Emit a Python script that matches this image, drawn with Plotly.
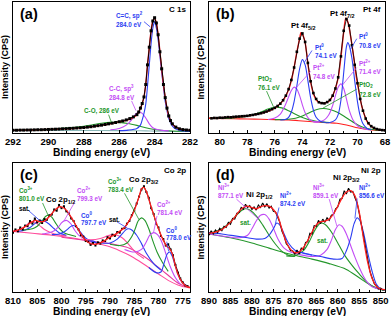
import plotly.graph_objects as go

# ================= Panel (a): C 1s =================
a_data_x = [292.0, 291.8, 291.6, 291.4, 291.2, 291.0, 290.8, 290.6, 290.4, 290.2,
            290.0, 289.8, 289.6, 289.4, 289.2, 289.0, 288.8, 288.6, 288.4, 288.2,
            288.0, 287.8, 287.6, 287.4, 287.2, 287.0, 286.8, 286.6, 286.4, 286.2,
            286.0, 285.8, 285.6, 285.4, 285.2, 285.0, 284.9, 284.8, 284.7, 284.6,
            284.5, 284.4, 284.3, 284.2, 284.1, 284.0, 283.9, 283.8, 283.7, 283.6,
            283.5, 283.4, 283.3, 283.2, 283.1, 283.0, 282.8, 282.6, 282.4, 282.2, 282.0]
a_data_y = [2.1, 2.1, 2.2, 2.2, 2.3, 2.3, 2.4, 2.5, 2.5, 2.6,
            2.7, 2.8, 2.9, 3.0, 3.2, 3.3, 3.5, 3.6, 3.8, 4.0,
            4.2, 4.5, 4.8, 5.2, 5.6, 6.0, 6.5, 7.0, 7.5, 8.0,
            8.6, 9.2, 10.0, 11.0, 12.3, 14.0, 16.0, 19.0, 22.5, 27.5,
            37.0, 52.0, 65.5, 78.0, 85.5, 88.0, 84.0, 75.0, 62.0, 49.0,
            37.0, 27.0, 19.0, 13.0, 9.5, 7.0, 4.5, 3.2, 2.6, 2.3, 2.1]
a_fit_x = [292, 291, 290, 289, 288, 287, 286.5, 286, 285.5, 285.2, 285.0, 284.8, 284.7,
           284.6, 284.5, 284.4, 284.3, 284.2, 284.1, 284.0, 283.9, 283.8, 283.7, 283.6,
           283.5, 283.4, 283.3, 283.2, 283.1, 283.0, 282.8, 282.5, 282.0]
a_fit_y = [2.0, 2.3, 2.7, 3.2, 4.1, 5.9, 7.1, 8.5, 10.1, 12.0, 13.9, 18.6, 22.3,
           27.5, 37.2, 52.0, 65.5, 78.0, 85.5, 87.8, 84.0, 75.0, 62.0, 49.0,
           37.0, 27.0, 19.0, 13.0, 9.4, 7.0, 4.5, 2.8, 2.0]
a_bg_x = [292, 290, 288, 286, 285, 284.5, 284, 283.5, 283, 282]
a_bg_y = [2.0, 2.0, 1.9, 1.8, 1.7, 1.6, 1.4, 1.3, 1.2, 1.2]
a_sp2_x = [286.0, 285.5, 285.0, 284.8, 284.7, 284.6, 284.5, 284.4, 284.3, 284.2, 284.1, 284.0,
           283.9, 283.8, 283.7, 283.6, 283.5, 283.4, 283.3, 283.2, 283.0, 282.8, 282.5, 282.0]
a_sp2_y = [1.8, 2.2, 3.5, 6.0, 10.0, 15.0, 22.0, 36.0, 52.0, 68.0, 80.0, 85.0,
           80.0, 71.0, 59.0, 46.0, 35.0, 24.0, 17.0, 11.0, 5.5, 3.0, 1.8, 1.3]
a_sp3_x = [286.5, 286.0, 285.6, 285.3, 285.1, 284.9, 284.7, 284.5, 284.3, 284.1, 283.9, 283.6, 283.2]
a_sp3_y = [2.5, 3.5, 6.0, 10.0, 14.0, 16.0, 15.0, 11.5, 7.0, 4.0, 2.8, 2.0, 1.6]
a_co_x = [292, 291, 290, 289, 288, 287.5, 287, 286.5, 286, 285.5, 285, 284.5, 284, 283.5, 283, 282]
a_co_y = [2.0, 2.3, 2.8, 3.7, 5.2, 6.3, 7.4, 8.1, 8.1, 7.3, 5.8, 4.0, 2.7, 1.9, 1.5, 1.3]

# ================= Panel (b): Pt 4f =================
b_data_x = [80.6, 80.4, 80.2, 80.0, 79.8, 79.6, 79.4, 79.2, 79.0,
            78.8, 78.6, 78.4, 78.2, 78.0, 77.8, 77.6, 77.4, 77.2, 77.0,
            76.8, 76.6, 76.4, 76.2, 76.0, 75.8, 75.6, 75.4, 75.2, 75.0,
            74.8, 74.6, 74.4, 74.2, 74.0, 73.8, 73.6, 73.4, 73.2, 73.0,
            72.8, 72.6, 72.4, 72.2, 72.0, 71.8, 71.6, 71.4, 71.2, 71.0,
            70.8, 70.6, 70.4, 70.2, 70.0, 69.8, 69.6, 69.4, 69.2, 69.0,
            68.8, 68.6, 68.4, 68.2, 68.0]
b_data_y = [11.2, 11.5, 11.4, 11.7, 11.6, 11.9, 12.1, 12.0, 12.3,
            12.5, 12.6, 12.8, 12.9, 13.1, 13.5, 13.8, 14.2, 14.6, 15.1,
            15.7, 16.4, 17.3, 18.2, 19.2, 20.6, 22.4, 25.0, 28.5, 33.5,
            40.5, 50.0, 62.0, 72.0, 76.0, 69.5, 53.5, 39.5, 30.5, 26.0,
            23.5, 22.8, 22.6, 23.6, 25.2, 28.5, 34.0, 42.5, 58.5, 78.0,
            87.0, 82.0, 67.0, 52.0, 38.0, 26.0, 17.0, 11.0, 7.5, 5.2,
            3.9, 3.0, 2.5, 2.2, 2.0]
b_fit_x = [80.78, 80, 79, 78, 77.5, 77, 76.5, 76, 75.6, 75.3, 75.0, 74.8, 74.6, 74.4, 74.2,
           74.1, 74.0, 73.8, 73.6, 73.4, 73.2, 73.0, 72.8, 72.5, 72.2, 72.0, 71.8, 71.6, 71.4,
           71.2, 71.0, 70.85, 70.7, 70.5, 70.3, 70.1, 69.9, 69.7, 69.5, 69.3, 69.0, 68.7, 68.4, 68.0]
b_fit_y = [11.3, 11.6, 12.2, 13.0, 13.9, 15.0, 16.6, 19.0, 22.5, 26.5, 33.0, 40.0, 50.0, 62.0, 72.0,
           76.5, 75.5, 69.0, 53.0, 39.0, 30.0, 25.5, 23.3, 22.6, 23.5, 25.0, 28.5, 34.0, 42.0,
           58.0, 77.0, 87.6, 85.0, 74.0, 60.0, 44.0, 32.0, 21.0, 14.0, 8.7, 5.0, 3.2, 2.5, 2.1]
b_bg_x = [80.78, 79, 78, 77, 76, 75, 74.5, 74, 73.5, 73, 72.5, 72, 71.5, 71, 70.5, 70, 69.5, 69, 68.5, 68]
b_bg_y = [11.2, 10.9, 10.7, 10.5, 10.2, 9.9, 9.6, 9.2, 8.8, 8.4, 8.1, 7.8, 7.4, 6.5, 5.3, 4.0, 3.0, 2.4, 2.0, 1.9]
b_pt0a_x = [75.6, 75.2, 75.0, 74.8, 74.6, 74.4, 74.2, 74.0, 73.8, 73.6, 73.4, 73.2, 73.0, 72.7, 72.3]
b_pt0a_y = [9.9, 10.5, 12.0, 16.0, 24.0, 36.0, 49.0, 56.0, 52.0, 40.0, 27.0, 17.5, 12.0, 9.0, 8.0]
b_pt0b_x = [72.3, 72.0, 71.6, 71.4, 71.2, 71.0, 70.8, 70.7, 70.6, 70.4, 70.2, 70.0, 69.8, 69.6, 69.3, 69.0]
b_pt0b_y = [7.8, 8.0, 10.0, 14.0, 25.0, 46.0, 66.0, 69.0, 67.0, 57.0, 40.0, 24.0, 13.0, 7.0, 3.5, 2.4]
b_pt2a_x = [76.5, 76.0, 75.6, 75.3, 75.0, 74.8, 74.6, 74.4, 74.2, 74.0, 73.8, 73.5, 73.2, 72.8]
b_pt2a_y = [10.3, 11.5, 14.5, 20.0, 27.5, 32.5, 35.0, 33.5, 28.5, 21.5, 15.5, 10.5, 8.8, 8.3]
b_pt2b_x = [73.2, 72.8, 72.4, 72.1, 71.8, 71.6, 71.4, 71.2, 71.0, 70.8, 70.6, 70.3, 70.0, 69.6, 69.2]
b_pt2b_y = [8.5, 8.5, 10.0, 13.5, 21.0, 28.5, 35.0, 37.5, 34.0, 26.0, 17.5, 9.5, 5.5, 3.5, 2.5]
b_pto2a_x = [80.78, 79, 78, 77.5, 77, 76.5, 76, 75.5, 75, 74.5, 74, 73.5, 73, 72.5, 72]
b_pto2a_y = [11.2, 11.5, 12.8, 14.2, 16.0, 18.3, 19.7, 19.2, 17.0, 14.3, 11.8, 10.0, 9.0, 8.3, 8.0]
b_pto2b_x = [76, 75, 74.5, 74, 73.5, 73, 72.5, 72, 71.5, 71, 70.5, 70, 69.5, 69, 68.5]
b_pto2b_y = [10.2, 10.5, 11.3, 13.0, 15.5, 17.8, 18.7, 18.0, 16.0, 13.0, 9.5, 6.3, 4.0, 2.8, 2.1]

# ================= Panel (c): Co 2p =================
c_data_x = [810.0, 809.5, 809.0, 808.5, 808.0, 807.5, 807.0, 806.5, 806.0, 805.5,
            805.0, 804.5, 804.0, 803.5, 803.0, 802.5, 802.0, 801.5, 801.0, 800.5,
            800.0, 799.5, 799.0, 798.5, 798.0, 797.5, 797.0, 796.5, 796.0, 795.5,
            795.0, 794.5, 794.0, 793.5, 793.0, 792.5, 792.0, 791.5, 791.0, 790.5,
            790.0, 789.5, 789.0, 788.5, 788.0, 787.5, 787.0, 786.5, 786.0, 785.5,
            785.0, 784.5, 784.0, 783.5, 783.0, 782.5, 782.0, 781.5, 781.0, 780.5,
            780.0, 779.5, 779.0, 778.5, 778.0, 777.5, 777.0, 776.5, 776.0, 775.5,
            775.0, 774.5, 774.0]
c_data_y = [46, 48.5, 47, 50, 48.5, 51.5, 51, 55, 53, 57,
            54, 55.5, 53.5, 56.5, 56, 59.5, 60, 64, 63, 67.5,
            65, 66.5, 62.5, 61, 57, 55, 51, 48.5, 44, 43,
            39.5, 39, 36.5, 38, 36, 38.5, 37.5, 40, 39.5, 42.5,
            41.5, 44.5, 43.5, 46.5, 46, 49, 49.5, 53, 55, 59.5,
            63, 68.5, 74, 79.5, 82, 77.5, 73, 65, 60.5, 53,
            50, 43.5, 41, 36, 37, 33, 28.5, 21, 15, 10.5,
            7.5, 5, 4.5]
c_fit_x = [810, 809, 808, 807, 806, 805.3, 804.5, 803.5, 802.5, 801.5, 800.5, 800, 799, 798, 797,
           796, 795, 794, 793, 792, 791, 790, 789, 788, 787, 786, 785, 784, 783.5, 783,
           782.5, 782, 781, 780, 779, 778.3, 777.8, 777.2, 776.5, 776, 775, 774, 773.5]
c_fit_y = [47, 48, 49.5, 52, 54.5, 55.5, 54.5, 55, 58.5, 63, 66, 66, 63.5, 58, 51.5,
           45, 40, 37.5, 37, 38, 40, 42.5, 44.5, 47, 50, 55.5, 63, 74, 80, 81,
           78, 72, 60, 49, 40, 35.5, 34, 30, 20, 14, 7, 4, 3.5]
c_bg1_x = [810, 806, 802, 798, 795, 792, 790, 788, 786, 784, 782, 780, 778, 776, 774, 773.5]
c_bg1_y = [47, 45.5, 44, 42, 40, 37, 35, 32, 28.5, 24, 19, 14, 9, 5.5, 3.5, 3.3]
c_bg2_x = [800, 796, 793, 790, 788, 786, 784, 782, 780, 778, 776, 774, 773.5]
c_bg2_y = [42.5, 40.5, 39, 37.5, 36, 34, 30, 25, 19, 13, 7, 4, 3.6]
c_sat1p_x = [810, 808.5, 807.5, 806.5, 806, 805.5, 804.5, 803.5, 802.5, 801, 799]
c_sat1p_y = [47, 48.5, 51, 54, 54.5, 54, 51.5, 48.5, 46.5, 44.5, 43.5]
c_sat1b_x = [809, 807.5, 806.5, 805.5, 804.5, 804, 803.5, 802.5, 801.5, 800.5, 799]
c_sat1b_y = [47, 48, 50, 53, 55, 55.5, 55, 52.5, 49, 46, 44]
c_co3a_x = [808, 806, 805, 804, 803.3, 802.7, 802, 801.3, 800.5, 799.5, 798.5, 797]
c_co3a_y = [48, 49, 51, 55, 58.5, 59.5, 58, 54, 49.5, 46, 44.5, 43]
c_co2a_x = [804, 802.5, 801.5, 800.5, 800, 799.5, 799, 798.5, 798, 797.2, 796.3, 795, 793]
c_co2a_y = [45, 46, 47.5, 51, 53.5, 55, 55.5, 54.5, 52.5, 47.5, 43.5, 41, 39]
c_co0a_x = [802, 800.5, 799.5, 798.8, 798.2, 797.6, 797, 796.3, 795.5, 794.5, 793]
c_co0a_y = [44.5, 45, 46.5, 48.5, 50.5, 51.5, 50.5, 47.5, 43.5, 40.5, 39]
c_sat2p_x = [796, 794, 792, 790.5, 789.5, 788.5, 787.5, 786.5, 785.5, 784.5, 783]
c_sat2p_y = [41, 40.5, 41.5, 43.5, 44.5, 44, 42, 38.5, 34, 30, 26]
c_sat2b_x = [794, 792, 790, 788.5, 787.5, 786.8, 786.2, 785.5, 784.5, 783.5, 782.5, 781, 779.5]
c_sat2b_y = [39, 38, 38, 41, 45, 48, 49, 48, 44, 37.5, 30, 22, 17]
c_co3b_x = [790, 788, 786.5, 785.5, 784.8, 784.2, 783.5, 782.8, 782, 781.2, 780.3, 779.2, 778]
c_co3b_y = [37, 36, 38, 43, 49, 55, 57.5, 55.5, 49, 40, 31, 23, 16]
c_co2b_x = [787, 785, 783.5, 782.5, 781.8, 781, 780.2, 779.4, 778.6, 777.6, 776.5, 775.5]
c_co2b_y = [33, 31, 33, 39, 44, 46, 44.5, 39.5, 31, 20, 11, 6]
c_co0b_x = [782, 780.5, 779.5, 778.8, 778.2, 777.7, 777.2, 776.6, 775.8, 775, 774]
c_co0b_y = [19, 15, 15.5, 23, 29.5, 31, 28, 21, 12, 7, 4.5]

# ================= Panel (d): Ni 2p =================
d_data_x = [890.0, 889.5, 889.0, 888.5, 888.0, 887.5, 887.0, 886.5, 886.0, 885.5,
            885.0, 884.5, 884.0, 883.5, 883.0, 882.5, 882.0, 881.5, 881.0, 880.5,
            880.0, 879.5, 879.0, 878.5, 878.0, 877.5, 877.0, 876.5, 876.0, 875.5,
            875.0, 874.5, 874.0, 873.5, 873.0, 872.5, 872.0, 871.5, 871.0, 870.5,
            870.0, 869.5, 869.0, 868.5, 868.0, 867.5, 867.0, 866.5, 866.0, 865.5,
            865.0, 864.5, 864.0, 863.5, 863.0, 862.5, 862.0, 861.5, 861.0, 860.5,
            860.0, 859.5, 859.0, 858.5, 858.0, 857.5, 857.0, 856.5, 856.0, 855.5,
            855.0, 854.5, 854.0, 853.5, 853.0, 852.5, 852.0, 851.5, 851.0, 850.5,
            850.0, 849.5, 849.0]
d_data_y = [44, 47.5, 45, 48, 46, 49.5, 47.5, 51, 50, 54,
            52.5, 57, 56.5, 61, 61.5, 65.5, 64, 68, 65.5, 67,
            64, 66, 63.5, 67.5, 65.5, 69, 66, 68.5, 65, 66.5,
            62.5, 62, 58, 54, 47, 43.5, 37.5, 35.5, 32, 32,
            29, 32.5, 29.5, 34, 33, 38.5, 39, 45.5, 45, 51.5,
            51, 55.5, 53, 56.5, 54, 57.5, 55.5, 59.5, 60, 64.5,
            66, 72, 72.5, 78.5, 76, 80.5, 77.5, 78, 73, 69,
            61, 52, 41.5, 31, 23, 16, 11, 6.5, 4.5, 2.5,
            3, 1.5, 2]
d_fit_x = [890, 889, 888, 887, 886, 885, 884, 883, 882, 881, 880, 879, 878, 877, 876, 875, 874,
           873, 872, 871, 870, 869, 868, 867, 866, 865, 864, 863, 862, 861, 860, 859, 858,
           857, 856, 855, 854, 853, 852, 851, 850, 849]
d_fit_y = [45.5, 46, 47, 48.5, 51, 54, 58, 62.5, 65.5, 66.5, 65.5, 64.5, 66, 67, 66.5, 64, 59,
           48.5, 38.5, 33, 30.5, 31, 34.5, 40, 46.5, 52, 54.5, 55, 56.5, 60.5, 66.5, 73, 77.5,
           78.5, 74.5, 62, 41, 22.5, 10.5, 4.5, 2.2, 1.8]
d_bg_x = [890, 885, 880, 876, 873, 870, 866, 862, 858, 855, 852, 850, 849]
d_bg_y = [45, 42, 38, 34, 31, 28.5, 25.5, 22, 17.5, 11, 4.5, 2, 1.5]
d_ni2a_x = [890, 887, 884, 881, 879, 877, 876, 875, 874.2, 873.4, 872.5, 871.5, 870, 868, 866]
d_ni2a_y = [46, 45, 43.5, 42, 41, 41.5, 44, 49, 53.5, 51.5, 45, 38, 32.5, 30, 28.5]
d_ni2b_x = [870, 867, 864, 861, 859, 858, 857, 856.2, 855.5, 854.8, 854, 853, 852, 851, 850, 849]
d_ni2b_y = [32, 29.5, 27.5, 25.5, 26, 32, 42, 53, 57.5, 55, 46, 30, 16, 6, 2.5, 1.5]
d_ni3a_x = [890, 886, 883, 881, 880, 879, 878, 877, 876, 875, 874, 872.5, 871, 869]
d_ni3a_y = [45, 43, 42, 44, 49, 55, 59.5, 60, 56.5, 49.5, 41.5, 34, 31, 29.5]
d_ni3b_x = [869, 866, 864, 862.5, 861.5, 860.6, 859.8, 859, 858, 857, 856, 855, 854, 853, 852, 850]
d_ni3b_y = [29, 27.5, 28.5, 33, 40, 48, 52, 51, 45, 36, 27, 19, 12, 7, 4, 2]
d_sata_x = [890, 888, 886, 884, 882.5, 881.5, 880.5, 879, 877.5, 876, 874.5, 873, 871.5, 870]
d_sata_y = [45.5, 47.5, 51.5, 58, 63, 64.5, 63.5, 59, 52, 44, 37, 31.5, 28.5, 27.5]
d_satb_x = [872, 870, 868, 866.5, 865.5, 864.5, 864, 863, 862, 861, 860, 858.5, 857, 855, 853, 851, 849]
d_satb_y = [28, 28, 32, 40, 47, 52, 53.5, 52.5, 49, 44, 38, 29, 22, 14, 7, 3, 1.5]

# ================= styling =================
FONT = "Liberation Sans, Arial, sans-serif"
BLUE = "#2b3df2"
VIOLET = "#c24cf5"
GREEN = "#23962a"
RED = "#ff1f1f"
PINK = "#ff4d9c"
MAG = "#e8389a"
TEAL = "#8ab8b8"
BLACK = "#000000"

fig = go.Figure()


def curve(ax, x, y, color, width=1.1, shape="spline"):
    fig.add_trace(go.Scatter(
        x=x, y=y, mode="lines",
        line=dict(color=color, width=width, shape=shape, smoothing=0.8),
        xaxis="x" + ax, yaxis="y" + ax, hoverinfo="skip", showlegend=False))


def points(ax, x, y, msize, lw):
    fig.add_trace(go.Scatter(
        x=x, y=y, mode="lines+markers",
        line=dict(color=BLACK, width=lw),
        marker=dict(symbol="square", size=msize, color=BLACK),
        xaxis="x" + ax, yaxis="y" + ax, hoverinfo="skip", showlegend=False))


# (a)
curve("", a_bg_x, a_bg_y, TEAL)
curve("", a_co_x, a_co_y, GREEN)
curve("", a_sp3_x, a_sp3_y, VIOLET)
curve("", a_sp2_x, a_sp2_y, BLUE)
curve("", a_fit_x, a_fit_y, RED, 1.4)
points("", a_data_x, a_data_y, 3, 1)

# (b)
curve("2", b_bg_x, b_bg_y, RED)
curve("2", b_pto2a_x, b_pto2a_y, GREEN)
curve("2", b_pto2b_x, b_pto2b_y, GREEN)
curve("2", b_pt2a_x, b_pt2a_y, VIOLET)
curve("2", b_pt2b_x, b_pt2b_y, VIOLET)
curve("2", b_pt0a_x, b_pt0a_y, BLUE)
curve("2", b_pt0b_x, b_pt0b_y, BLUE)
curve("2", b_fit_x, b_fit_y, RED, 1.4)
points("2", b_data_x, b_data_y, 2.6, 0.8)

# (c)
curve("3", c_bg1_x, c_bg1_y, PINK)
curve("3", c_bg2_x, c_bg2_y, MAG)
curve("3", c_sat1p_x, c_sat1p_y, PINK)
curve("3", c_sat1b_x, c_sat1b_y, BLUE)
curve("3", c_co3a_x, c_co3a_y, GREEN)
curve("3", c_co2a_x, c_co2a_y, VIOLET)
curve("3", c_co0a_x, c_co0a_y, BLUE)
curve("3", c_sat2p_x, c_sat2p_y, PINK)
curve("3", c_sat2b_x, c_sat2b_y, BLUE)
curve("3", c_co3b_x, c_co3b_y, GREEN)
curve("3", c_co2b_x, c_co2b_y, VIOLET)
curve("3", c_co0b_x, c_co0b_y, BLUE)
points("3", c_data_x, c_data_y, 2, 1)
curve("3", c_fit_x, c_fit_y, RED, 1.3)

# (d)
curve("4", d_bg_x, d_bg_y, GREEN)
curve("4", d_sata_x, d_sata_y, GREEN)
curve("4", d_satb_x, d_satb_y, GREEN)
curve("4", d_ni3a_x, d_ni3a_y, VIOLET)
curve("4", d_ni3b_x, d_ni3b_y, VIOLET)
curve("4", d_ni2a_x, d_ni2a_y, BLUE)
curve("4", d_ni2b_x, d_ni2b_y, BLUE)
fig.add_trace(go.Scatter(x=d_data_x, y=d_data_y, mode="lines",
                         line=dict(color=BLACK, width=1.1),
                         xaxis="x4", yaxis="y4", hoverinfo="skip", showlegend=False))
curve("4", d_fit_x, d_fit_y, RED, 1.3)

# ================= layout =================
W, H = 392, 316
XL = [13 / W, 190 / W]
XR = [209 / W, 385 / W]
YT = [1 - 133 / H, 1 - 2 / H]
YB = [1 - 292 / H, 1 - 163 / H]

tickfont = dict(family=FONT, size=9.5, color=BLACK, weight="bold")


def xax(dom, anchor, rng, dt, mdt):
    return dict(domain=dom, anchor=anchor, range=rng, dtick=dt, tick0=0, automargin=False,
                showline=True, linecolor=BLACK, linewidth=1, mirror=True,
                ticks="inside", ticklen=3.5, tickwidth=1, tickcolor=BLACK,
                minor=dict(ticks="inside", ticklen=2, tickcolor=BLACK, dtick=mdt, tick0=0),
                showgrid=False, zeroline=False, tickfont=tickfont, fixedrange=True,
                ticklabelstandoff=0)


def yax(dom, anchor):
    return dict(domain=dom, anchor=anchor, range=[0, 100], showline=True, linecolor=BLACK,
                linewidth=1, mirror=True, ticks="", showticklabels=False, automargin=False,
                showgrid=False, zeroline=False, fixedrange=True)


ann = []
shp = []
LS = 6.3   # coloured label size
BS = 7.8   # black peak label size


def lab(ax, x, y, text, color, size=LS, xanchor="left"):
    ann.append(dict(xref="x" + ax, yref="y" + ax, x=x, y=y, text="<b>" + text + "</b>",
                    showarrow=False, xanchor=xanchor, yanchor="middle",
                    font=dict(family=FONT, size=size, color=color)))


def lead(ax, x0, y0, x1, y1, color):
    shp.append(dict(type="line", xref="x" + ax, yref="y" + ax, x0=x0, y0=y0, x1=x1, y1=y1,
                    line=dict(color=color, width=0.8)))


def corner(ax, text, size, left=True):
    xr = ("x" + ax + " domain") if ax else "x domain"
    yr = ("y" + ax + " domain") if ax else "y domain"
    ann.append(dict(xref=xr, yref=yr, x=0.03 if left else 0.99, y=0.985 if left else 0.99,
                    xanchor="left" if left else "right", yanchor="top",
                    text="<b>" + text + "</b>", showarrow=False,
                    font=dict(family=FONT, size=size, color=BLACK)))


# panel ids and titles
for ax, pid, ttl in [("", "(a)", "C 1s"), ("2", "(b)", "Pt 4f"), ("3", "(c)", "Co 2p"), ("4", "(d)", "Ni 2p")]:
    corner(ax, pid, 14.5, True)
    corner(ax, ttl, 8, False)

# (a) labels
lab("", 286.3, 89.5, "C=C, sp<sup>2</sup>", BLUE)
lab("", 286.3, 83.0, "284.0 eV", BLUE)
lead("", 284.6, 85.0, 284.25, 81.0, BLUE)
lab("", 286.7, 34.0, "C-C, sp<sup>3</sup>", VIOLET)
lab("", 286.7, 27.0, "284.8 eV", VIOLET)
lead("", 285.3, 24.5, 285.05, 17.0, VIOLET)
lab("", 288.1, 16.5, "C-O, 286 eV", GREEN)
lead("", 286.6, 14.0, 286.45, 8.5, GREEN)

# (b) labels
lab("2", 73.95, 81.5, "Pt 4f<sub>5/2</sub>", BLACK, BS, "center")
lab("2", 71.1, 91.0, "Pt 4f<sub>7/2</sub>", BLACK, BS, "center")
lab("2", 73.25, 65.3, "Pt<sup>0</sup>", BLUE)
lab("2", 73.25, 59.2, "74.1 eV", BLUE)
lead("2", 73.3, 63.0, 73.85, 54.0, BLUE)
lab("2", 70.0, 73.7, "Pt<sup>0</sup>", BLUE)
lab("2", 70.0, 67.1, "70.8 eV", BLUE)
lead("2", 70.05, 72.0, 70.5, 64.0, BLUE)
lab("2", 73.35, 50.3, "Pt<sup>2+</sup>", VIOLET)
lab("2", 73.35, 43.4, "74.8 eV", VIOLET)
lead("2", 73.4, 47.0, 74.5, 34.0, VIOLET)
lab("2", 70.0, 53.4, "Pt<sup>2+</sup>", VIOLET)
lab("2", 70.0, 46.8, "71.4 eV", VIOLET)
lead("2", 70.05, 50.0, 71.1, 36.5, VIOLET)
lab("2", 77.4, 41.6, "PtO<sub>2</sub>", GREEN)
lab("2", 77.4, 35.0, "76.1 eV", GREEN)
lead("2", 76.6, 32.0, 76.1, 20.0, GREEN)
lab("2", 70.0, 36.8, "PtO<sub>2</sub>", GREEN)
lab("2", 70.0, 29.7, "72.8 eV", GREEN)
lead("2", 70.05, 33.5, 72.5, 19.0, GREEN)

# (c) labels
lab("3", 783.0, 86.5, "Co 2p<sub>3/2</sub>", BLACK, BS, "center")
lab("3", 800.3, 71.0, "Co 2p<sub>1/2</sub>", BLACK, BS, "center")
lab("3", 809.1, 79.0, "Co<sup>3+</sup>", GREEN)
lab("3", 809.1, 72.5, "801.0 eV", GREEN)
lead("3", 803.9, 69.0, 802.7, 59.0, GREEN)
lab("3", 809.1, 65.0, "sat.", BLACK)
lead("3", 806.9, 63.5, 804.5, 55.5, BLUE)
lab("3", 797.3, 79.0, "Co<sup>2+</sup>", VIOLET)
lab("3", 797.3, 72.5, "799.3 eV", VIOLET)
lead("3", 797.3, 69.5, 799.5, 55.0, VIOLET)
lab("3", 796.4, 60.0, "Co<sup>0</sup>", BLUE)
lab("3", 796.4, 54.0, "797.7 eV", BLUE)
lab("3", 790.8, 86.0, "Co<sup>3+</sup>", GREEN)
lab("3", 790.8, 79.5, "783.4 eV", GREEN)
lead("3", 787.0, 76.5, 784.0, 56.0, GREEN)
lab("3", 780.8, 68.0, "Co<sup>2+</sup>", VIOLET)
lab("3", 780.8, 61.5, "781.4 eV", VIOLET)
lead("3", 780.3, 59.0, 781.0, 46.5, VIOLET)
lab("3", 778.9, 48.0, "Co<sup>0</sup>", BLUE)
lab("3", 778.9, 42.0, "778.0 eV", BLUE)
lead("3", 778.3, 39.0, 777.9, 31.5, BLUE)
lab("3", 790.6, 56.0, "sat.", BLACK)
lead("3", 788.6, 54.5, 786.4, 49.5, BLUE)

# (d) labels
lab("4", 858.0, 88.0, "Ni 2p<sub>3/2</sub>", BLACK, BS, "center")
lab("4", 878.2, 75.5, "Ni 2p<sub>1/2</sub>", BLACK, BS, "center")
lab("4", 888.4, 81.5, "Ni<sup>3+</sup>", VIOLET)
lab("4", 888.4, 75.0, "877.1 eV", VIOLET)
lead("4", 883.6, 72.0, 878.8, 57.5, VIOLET)
lab("4", 873.9, 75.0, "Ni<sup>2+</sup>", BLUE)
lab("4", 873.9, 68.5, "874.2 eV", BLUE)
lead("4", 873.7, 65.5, 874.6, 52.0, BLUE)
lab("4", 866.3, 81.5, "Ni<sup>3+</sup>", VIOLET)
lab("4", 866.3, 75.0, "859.1 eV", VIOLET)
lead("4", 862.0, 72.0, 860.2, 51.0, VIOLET)
lab("4", 855.6, 81.5, "Ni<sup>2+</sup>", BLUE)
lab("4", 855.6, 75.0, "856.6 eV", BLUE)
lead("4", 855.5, 72.5, 856.0, 57.0, BLUE)
lab("4", 883.2, 53.5, "sat.", GREEN)
lab("4", 865.2, 40.0, "sat.", GREEN)

# axis titles
for xc, yc in [((XL[0] + XL[1]) / 2, 1 - 152 / H), ((XR[0] + XR[1]) / 2, 1 - 152 / H),
               ((XL[0] + XL[1]) / 2, 1 - 311 / H), ((XR[0] + XR[1]) / 2, 1 - 311 / H)]:
    ann.append(dict(xref="paper", yref="paper", x=xc, y=yc, xanchor="center", yanchor="middle",
                    text="<b>Binding energy (eV)</b>", showarrow=False,
                    font=dict(family=FONT, size=10.3, color=BLACK)))
for xc, yc in [(4.5 / W, (YT[0] + YT[1]) / 2), (200 / W, (YT[0] + YT[1]) / 2),
               (4.5 / W, (YB[0] + YB[1]) / 2), (200 / W, (YB[0] + YB[1]) / 2)]:
    ann.append(dict(xref="paper", yref="paper", x=xc, y=yc, xanchor="center", yanchor="middle",
                    text="<b>Intensity (CPS)</b>", textangle=-90, showarrow=False,
                    font=dict(family=FONT, size=9, color=BLACK)))

fig.update_layout(
    width=W, height=H, margin=dict(l=0, r=0, t=0, b=0, autoexpand=False),
    paper_bgcolor="white", plot_bgcolor="white", showlegend=False,
    xaxis=xax(XL, "y", [292, 282], 2, 1),
    xaxis2=xax(XR, "y2", [80.78, 68], 2, 1),
    xaxis3=xax(XL, "y3", [810, 773.5], 5, 2.5),
    xaxis4=xax(XR, "y4", [890, 849], 5, 2.5),
    yaxis=yax(YT, "x"), yaxis2=yax(YT, "x2"), yaxis3=yax(YB, "x3"), yaxis4=yax(YB, "x4"),
    annotations=ann, shapes=shp,
)

fig.write_html(
    "out.html",
    config={"displayModeBar": False, "staticPlot": True},
    post_script="document.body.style.margin='0px';document.body.style.padding='0px';"
                "document.body.style.overflow='hidden';",
)
